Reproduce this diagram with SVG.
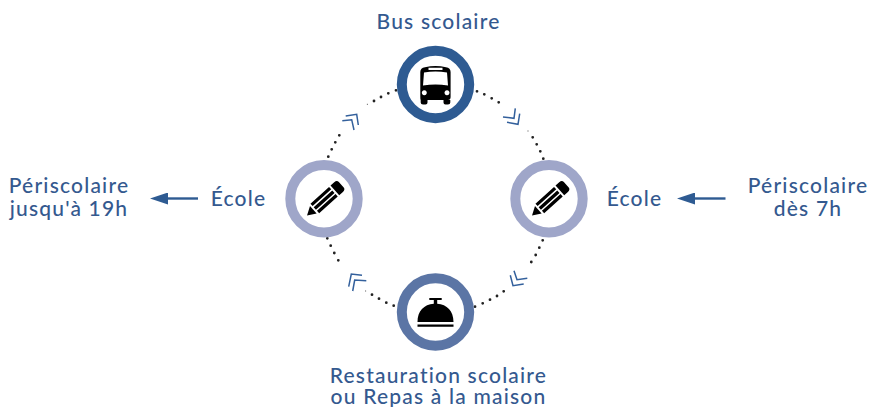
<svg xmlns="http://www.w3.org/2000/svg" width="869" height="407" viewBox="0 0 869 407">
<style>
text{font-family:"Lato","Liberation Sans",sans-serif;font-size:21px;font-weight:500;letter-spacing:1.2px;fill:#34598f;text-anchor:middle}
.ring{fill:#fff;stroke-width:10}
.dots{fill:none;stroke:#222;stroke-width:2.8;stroke-linecap:round}
.faint{stroke-width:1}
.chev{fill:none;stroke:#33609c;stroke-width:1.5}
.arrow{fill:none;stroke:#2e5b92;stroke-width:2.4}
</style>
<defs>
<marker id="head" markerUnits="userSpaceOnUse" markerWidth="18" markerHeight="12" refX="0" refY="6" orient="auto" viewBox="0 0 18 12"><path d="M18 6 0 0V12Z" fill="#2e5b92"/></marker>
<g id="pencil">
<path d="M0 0 8.500-5 8.500 5Z"/>
<path d="M10.500-6.500H35.500V-3.200H10.500ZM10.500-1.700H35.500V1.700H10.500ZM10.500 3.200H35.500V6.500H10.500Z"/>
<path d="M37.500-6.500H42.500Q46-6.500 46-3.500V3.500Q46 6.500 42.500 6.500H37.500Z"/>
</g>
</defs>
<g id="connectors">
<path class="dots" d="M396 90.300h0M388.300 93.300h0M381 97h0M374 101h0"/>
<path class="dots faint" d="M367.300 104.300h0"/>
<path class="dots" d="M339.300 135.300h0M335.300 142.300h0M331.700 149.300h0M328.300 156.700h0"/>
<path class="dots" d="M477 91.300h0M484.300 94.300h0M491.700 98.300h0M498.700 102.300h0"/>
<path class="dots faint" d="M528 131h0"/>
<path class="dots" d="M532.700 137.300h0M536.700 144.300h0M540.300 151.300h0M543.300 158.700h0"/>
<path class="dots" d="M327.300 238.300h0M330.700 245.700h0M334.300 253h0M338.300 260.300h0"/>
<path class="dots faint" d="M365.700 291h0"/>
<path class="dots" d="M372 294.700h0M379 298.700h0M386.300 302.700h0M393.700 305.700h0"/>
<path class="dots" d="M542.700 240.300h0M539.300 247.700h0M535.700 255h0M531.300 262h0"/>
<path class="dots" d="M503.700 291.300h0M497 296h0M490 299.700h0M482.700 303.300h0M475 306.700h0"/>
<path class="chev" d="M345.700 116 356.700 114.300 358.300 125M342.300 120.700 351.700 119.700 354 130"/>
<path class="chev" d="M503 117 514 118.300 515.300 108.300M507 122.300 518 124.300 519.700 113.700"/>
<path class="chev" d="M348.700 286.700 351.300 274 362 275.300M352.700 291 354.700 280 366.300 280.700"/>
<path class="chev" d="M514 270.700 517 279.700 527.300 278.300M510.300 275.300 513 285.700 523.700 284"/>
<path class="arrow" d="M198 198.500H168" marker-end="url(#head)"/>
<path class="arrow" d="M725.500 198.500H695" marker-end="url(#head)"/>
</g>
<g id="node-bus">
<circle class="ring" cx="435.500" cy="84.500" r="33.700" stroke="#2e5b92"/>
<path fill-rule="evenodd" d="M420.300 72Q420.300 68 425 67.200 435.500 64.800 446 67.200 450.600 68 450.600 72V97Q450.600 100 448 100H450.300V102.500Q450.300 104.500 448 104.500H445.500Q443.500 104.500 443.500 102.500V100H427.500V102.500Q427.500 104.500 425.500 104.500H423Q420.700 104.500 420.700 102.500V100Q420.300 100 420.300 97ZM423 85.500 424 72.500Q435.500 70.600 447 72.500L448 85.500Q435.500 83.700 423 85.500ZM428.500 67.800V70H442.500V67.800ZM424.300 90.300a2.500 2.500 0 1 0 .01 0ZM447 90.300a2.500 2.500 0 1 0 .01 0Z"/>
<text x="438.500" y="29">Bus scolaire</text>
</g>
<g id="node-ecole-gauche">
<circle class="ring" cx="324" cy="198.700" r="33.700" stroke="#9fa6c9"/>
<use href="#pencil" transform="translate(307 215.500) rotate(-42)"/>
<text x="238.500" y="206">École</text>
</g>
<g id="node-ecole-droite">
<circle class="ring" cx="549" cy="198.700" r="33.700" stroke="#9fa6c9"/>
<use href="#pencil" transform="translate(532 215.500) rotate(-42)"/>
<text x="634.500" y="206">École</text>
</g>
<g id="node-restauration">
<circle class="ring" cx="435.500" cy="312" r="33.700" stroke="#5b75a5"/>
<path d="M417.500 322C417.500 311 424 304.500 433.800 303.800V300H429.300V298H441.700V300H437.200V303.800C447 304.500 453.500 311 453.500 322ZM417.500 324.500H453.500V326.800H417.500Z"/>
<text x="438.500" y="382.500">Restauration scolaire</text>
<text x="438.500" y="403.500">ou Repas à la maison</text>
</g>
<g id="label-periscolaire-gauche">
<text x="69" y="193">Périscolaire</text>
<text x="69" y="216">jusqu'à 19h</text>
</g>
<g id="label-periscolaire-droite">
<text x="808" y="193">Périscolaire</text>
<text x="808" y="216">dès 7h</text>
</g>
</svg>
